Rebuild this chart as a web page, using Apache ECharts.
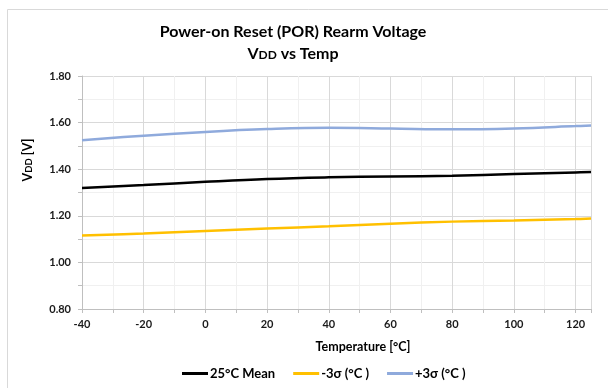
<!DOCTYPE html>
<html><head><meta charset="utf-8">
<script src="https://cdn.jsdelivr.net/npm/echarts@6/dist/echarts.min.js"></script>
<style>html,body{margin:0;padding:0;background:#fff}#c{width:608px;height:388px}</style>
</head><body><div id="c"></div>
<script>
const temps = [-40, -20, 0, 20, 40, 60, 80, 100, 120, 125];
const mean25 = [1.319, 1.332, 1.346, 1.358, 1.365, 1.369, 1.372, 1.379, 1.386, 1.388];
const minus3s = [1.115, 1.124, 1.135, 1.145, 1.155, 1.166, 1.175, 1.180, 1.186, 1.188];
const plus3s = [1.524, 1.544, 1.560, 1.572, 1.578, 1.575, 1.571, 1.575, 1.585, 1.588];
const seriesNames = ['25°C Mean', '-3σ (°C )', '+3σ (°C )'];
const seriesColors = ['#000000', '#FFC000', '#8FAADC'];

const FONT = 'Lato';
const pair = a => temps.map((t, i) => [t, a[i]]);
const chart = echarts.init(document.getElementById('c'), null, {renderer: 'canvas'});
chart.setOption({
  animation: false,
  textStyle: {fontFamily: FONT},
  graphic: [
    {type: 'rect', shape: {x: 7.5, y: 9.5, width: 620, height: 400}, style: {fill: 'none', stroke: '#d9d9d9', lineWidth: 1}, z: -10},
    {type: 'text', x: 293, y: 32, style: {text: 'Power-on Reset (POR) Rearm Voltage', fontFamily: FONT, fontWeight: 'bold', fontSize: 16, fill: '#000', align: 'center', verticalAlign: 'middle'}},
    {type: 'text', x: 293, y: 54, style: {
      text: '{a|V}{b|DD}{a| vs Temp}', align: 'center', verticalAlign: 'middle',
      rich: {a: {fontFamily: FONT, fontWeight: 'bold', fontSize: 16, fill: '#000'}, b: {fontFamily: FONT, fontWeight: 'bold', fontSize: 12, fill: '#000', padding: [3, 0, 0, 0]}}
    }},
    {type: 'text', x: 28, y: 160, rotation: Math.PI / 2, style: {
      text: '{a|V}{b|DD}{a| [V]}', align: 'center', verticalAlign: 'middle',
      rich: {a: {fontFamily: FONT, fontWeight: 'bold', fontSize: 12.5, fill: '#000'}, b: {fontFamily: FONT, fontWeight: 'bold', fontSize: 9.5, fill: '#000', padding: [2, 0, 0, 0]}}
    }},
    {type: 'text', x: 363, y: 347, style: {text: 'Temperature [°C]', fontFamily: FONT, fontWeight: 'bold', fontSize: 12.5, fill: '#000', align: 'center', verticalAlign: 'middle'}}
  ],
  grid: {left: 82, right: 17, top: 76, bottom: 79, containLabel: false},
  legend: {
    bottom: 3, left: 177, itemWidth: 26, itemHeight: 3, itemGap: 18,
    icon: 'rect',
    textStyle: {fontFamily: FONT, fontWeight: 'bold', fontSize: 13, color: '#000', padding: [0, 0, 0, -3]},
    data: seriesNames.map((n, i) => ({name: n, icon: 'rect', itemStyle: {color: seriesColors[i]}}))
  },
  xAxis: {
    type: 'value', min: -40, max: 125, interval: 20,
    axisLine: {show: true, onZero: false, lineStyle: {color: '#bfbfbf'}},
    axisTick: {show: true, length: 4, lineStyle: {color: '#bfbfbf'}},
    minorTick: {show: true, splitNumber: 2, length: 4, lineStyle: {color: '#bfbfbf'}},
    axisLabel: {fontFamily: FONT, fontWeight: 'bold', fontSize: 11, color: '#1a1a1a', margin: 10,
      formatter: v => (v === 125 ? '' : String(v))},
    splitLine: {show: true, lineStyle: {color: '#d9d9d9'}},
    minorSplitLine: {show: true, lineStyle: {color: '#f0f0f0'}}
  },
  yAxis: {
    type: 'value', min: 0.8, max: 1.8, interval: 0.2,
    axisLine: {show: true, onZero: false, lineStyle: {color: '#bfbfbf'}},
    axisTick: {show: true, length: 4, lineStyle: {color: '#bfbfbf'}},
    minorTick: {show: true, splitNumber: 2, length: 4, lineStyle: {color: '#bfbfbf'}},
    axisLabel: {fontFamily: FONT, fontWeight: 'bold', fontSize: 11, color: '#1a1a1a', margin: 11,
      formatter: v => v.toFixed(2)},
    splitLine: {show: true, lineStyle: {color: '#d9d9d9'}},
    minorSplitLine: {show: true, lineStyle: {color: '#f0f0f0'}}
  },
  series: [
    {name: seriesNames[0], type: 'line', smooth: 0.4, showSymbol: false, data: pair(mean25), lineStyle: {color: seriesColors[0], width: 2.5}, itemStyle: {color: seriesColors[0]}},
    {name: seriesNames[1], type: 'line', smooth: 0.4, showSymbol: false, data: pair(minus3s), lineStyle: {color: seriesColors[1], width: 2.5}, itemStyle: {color: seriesColors[1]}},
    {name: seriesNames[2], type: 'line', smooth: 0.4, showSymbol: false, data: pair(plus3s), lineStyle: {color: seriesColors[2], width: 2.5}, itemStyle: {color: seriesColors[2]}}
  ]
});
</script></body></html>
